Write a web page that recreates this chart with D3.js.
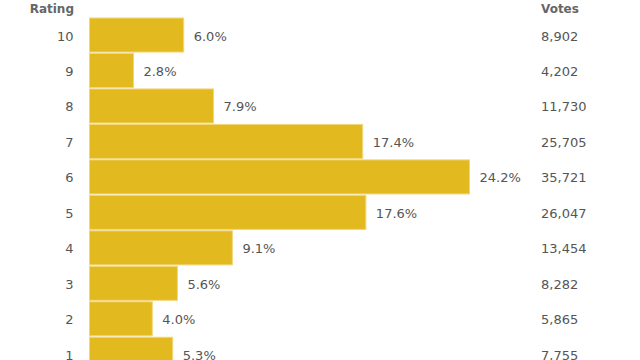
<!DOCTYPE html>
<html>
<head>
<meta charset="utf-8">
<script src="https://cdn.jsdelivr.net/npm/d3@7"></script>
<style>
  html, body { margin: 0; padding: 0; background: #fff; }
  svg { display: block; font-family: "DejaVu Sans", Verdana, sans-serif; }
</style>
</head>
<body>
<div id="chart"></div>
<script>
// 数据
const ratings = ["10", "9", "8", "7", "6", "5", "4", "3", "2", "1"];
const percents = [6.0, 2.8, 7.9, 17.4, 24.2, 17.6, 9.1, 5.6, 4.0, 5.3];
const votes = [8902, 4202, 11730, 25705, 35721, 26047, 13454, 8282, 5865, 7755];

const width = 640, height = 360;
const barLeft = 89.5;

const svg = d3.select("#chart")
    .append("svg")
    .attr("width", width)
    .attr("height", height);

// 比例尺
const y = d3.scaleBand()
    .domain(ratings)
    .range([18, 18 + 35.33 * ratings.length])
    .paddingInner(0.04)
    .paddingOuter(0);

const x = d3.scaleLinear()
    .domain([0, 24.2])
    .range([barLeft, 469.5]);

const fmt = d3.format(",");

// 表头
svg.append("text")
    .attr("x", 74)
    .attr("y", 13)
    .attr("text-anchor", "end")
    .attr("font-size", "12px")
    .attr("font-weight", "bold")
    .attr("fill", "#666")
    .text("Rating");

svg.append("text")
    .attr("x", 541)
    .attr("y", 13)
    .attr("font-size", "12px")
    .attr("font-weight", "bold")
    .attr("fill", "#666")
    .text("Votes");

const rows = svg.selectAll("g.row")
    .data(ratings)
    .enter()
    .append("g")
    .attr("class", "row");

// 条形
rows.append("rect")
    .attr("x", x(0))
    .attr("y", d => y(d))
    .attr("width", (d, i) => x(percents[i]) - x(0))
    .attr("height", y.bandwidth())
    .attr("fill", "#e2b91f")
    .attr("stroke", "#f0d77e")
    .attr("stroke-width", 1);

// 评分标签
rows.append("text")
    .attr("x", 73.5)
    .attr("y", d => y(d) + y.bandwidth() / 2 + 1)
    .attr("text-anchor", "end")
    .attr("dominant-baseline", "central")
    .attr("font-size", "13px")
    .attr("fill", "#555")
    .text(d => d);

// 百分比标签
rows.append("text")
    .attr("x", (d, i) => x(percents[i]) + 10)
    .attr("y", d => y(d) + y.bandwidth() / 2 + 1)
    .attr("dominant-baseline", "central")
    .attr("font-size", "13px")
    .attr("fill", "#555")
    .text((d, i) => percents[i].toFixed(1) + "%");

// 票数
rows.append("text")
    .attr("x", 541)
    .attr("y", d => y(d) + y.bandwidth() / 2 + 1)
    .attr("dominant-baseline", "central")
    .attr("font-size", "13px")
    .attr("fill", "#555")
    .text((d, i) => fmt(votes[i]));
</script>
</body>
</html>
